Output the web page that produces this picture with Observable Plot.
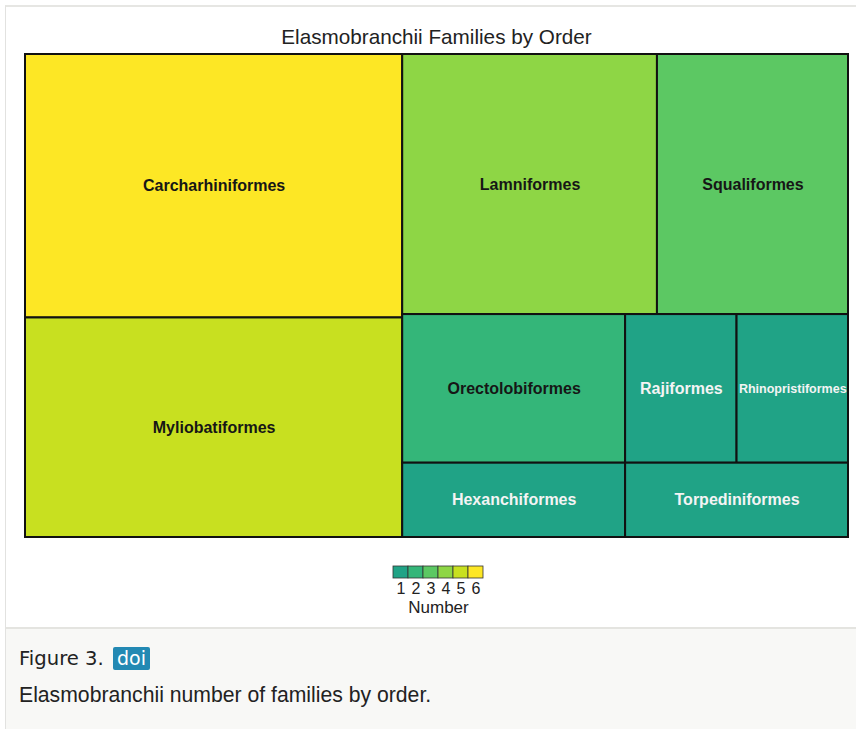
<!DOCTYPE html>
<html>
<head>
<meta charset="utf-8">
<script src="https://cdn.jsdelivr.net/npm/d3@7"></script>
<script src="https://cdn.jsdelivr.net/npm/@observablehq/plot@0.6"></script>
<style>
  html, body { margin: 0; padding: 0; background: #fff; }
  body { width: 856px; height: 729px; position: relative; overflow: hidden; font-family: "Liberation Sans", Arial, sans-serif; }
  #frame { position: absolute; left: 5px; top: 5px; width: 860px; height: 740px; border-left: 1px solid #e2e2e0; border-top: 2px solid #e6e6e3; box-sizing: border-box; }
  #title { position: absolute; left: 25px; width: 823px; top: 25px; text-align: center; font-size: 20.7px; line-height: 24px; color: #222; }
  #chart { position: absolute; left: 0; top: 0; }
  #legend { position: absolute; left: 378px; top: 565px; }
  #caption { position: absolute; left: 6px; top: 627px; width: 860px; height: 110px; background: #f8f8f6; border-top: 2px solid #e4e4e0; }
  #fig { position: absolute; left: 13px; top: 18px; font-family: "DejaVu Sans", sans-serif; font-size: 19.6px; color: #222; }
  #doi { display: inline-block; background: #2389b3; color: #fff; padding: 0 4px; line-height: 23px; border-radius: 2px; margin-left: 3px; font-size: 19px; }
  #desc { position: absolute; left: 13px; top: 54px; font-family: "Liberation Sans", Arial, sans-serif; font-size: 21.2px; color: #222; }
</style>
</head>
<body>
<div id="frame"></div>
<div id="title">Elasmobranchii Families by Order</div>
<div id="chart"></div>
<div id="legend"></div>
<div id="caption">
  <div id="fig">Figure 3. <span id="doi">doi</span></div>
  <div id="desc">Elasmobranchii number of families by order.</div>
</div>
<script>
// ---- data ----
const orders = ["Carcharhiniformes", "Myliobatiformes", "Lamniformes", "Squaliformes", "Orectolobiformes",
                "Hexanchiformes", "Rajiformes", "Rhinopristiformes", "Torpediniformes"];
const families = [6, 5, 4, 3, 2, 1, 1, 1, 1];
const legendValues = [1, 2, 3, 4, 5, 6];

const table = orders.map((name, i) => ({name, value: families[i]}));

// treemap layout (squarified, as in R's treemap)
const W = 823, H = 483;
const root = d3.hierarchy({children: table}).sum(d => d.value || 0);
d3.treemap().size([W, H]).tile(d3.treemapSquarify)(root);
const leaves = root.leaves().map(l => ({...l.data, x0: l.x0, x1: l.x1, y0: l.y0, y1: l.y1}));

const colorScale = {type: "linear", domain: [1, 6], interpolate: t => d3.interpolateViridis(0.58 + 0.42 * t)};

const chart = Plot.plot({
  width: 856, height: 545,
  marginLeft: 25, marginRight: 8, marginTop: 54, marginBottom: 8,
  x: {domain: [0, W], axis: null},
  y: {domain: [0, H], axis: null, reverse: true},
  color: colorScale,
  style: {fontFamily: "Liberation Sans, Arial, sans-serif", background: "transparent"},
  marks: [
    Plot.rect(leaves, {x1: "x0", x2: "x1", y1: "y0", y2: "y1", fill: "value", stroke: "#111", strokeWidth: 2}),
    Plot.text(leaves, {
      x: d => (d.x0 + d.x1) / 2, y: d => (d.y0 + d.y1) / 2, text: "name",
      fill: d => d.value === 1 ? "#f4f4f4" : "#161616",
      fontWeight: "bold",
      fontSize: d => d.name === "Rhinopristiformes" ? 12.5 : 16
    })
  ]
});
document.getElementById("chart").appendChild(chart);

const legend = Plot.plot({
  width: 120, height: 50,
  marginLeft: 15, marginRight: 15, marginTop: 1, marginBottom: 37,
  x: {type: "band", domain: legendValues, padding: 0, tickSize: 0, tickPadding: 4, label: "Number", labelAnchor: "center", labelArrow: "none", labelOffset: 34},
  color: colorScale,
  style: {fontFamily: "Liberation Sans, Arial, sans-serif", fontSize: "16px", color: "#222", background: "transparent", overflow: "visible"},
  marks: [
    Plot.axisX({tickSize: 0, tickPadding: 4, fontSize: 16, label: null}),
    Plot.axisX({ticks: [], label: "Number", labelAnchor: "center", labelArrow: "none", labelOffset: 34, fontSize: 17}),
    Plot.cell(legendValues, {x: d => d, fill: d => d, stroke: "#333", strokeWidth: 0.8})
  ]
});
document.getElementById("legend").appendChild(legend);
</script>
</body>
</html>
